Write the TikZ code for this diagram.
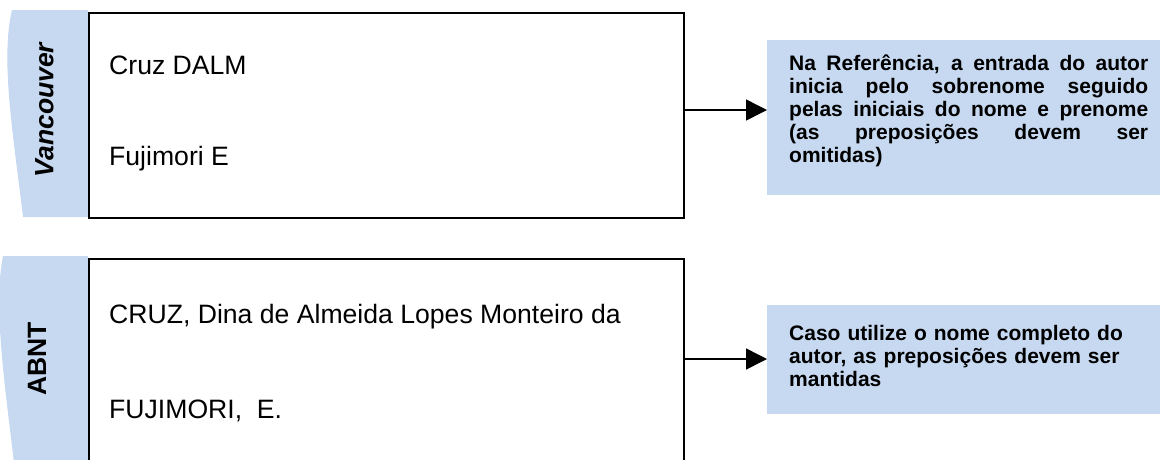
\documentclass[tikz,border=0pt]{standalone}
\usepackage{fontspec}
\setmainfont{Liberation Sans}
\usetikzlibrary{arrows.meta}
\definecolor{tabblue}{RGB}{198,217,240}
\begin{document}
\begin{tikzpicture}[x=1pt,y=-1pt,
  frame/.style={draw=black, line width=1.5pt, fill=white, inner sep=0pt, anchor=north west},
  reftext/.style={anchor=base west, inner sep=0pt, font=\fontsize{26.6}{30}\selectfont},
  notebox/.style={fill=tabblue, draw=none, inner sep=0pt, anchor=north west},
  notetext/.style={anchor=north west, inner sep=0pt, text width=359pt,
    font=\fontsize{21}{23}\selectfont\bfseries},
  tabtext/.style={rotate=90, inner sep=0pt, font=\fontsize{25}{30}\selectfont\bfseries},
  link/.style={line width=1.5pt, -{Triangle[length=21pt,width=21pt]}}
]
\useasboundingbox (0,0) rectangle (1160,459);
\begin{scope}
\clip (0,0) rectangle (1160,459);
% side tabs
\fill[tabblue] (12,10) -- (88,10) -- (88,217) -- (23,217)
  .. controls (14,140) and (0,60) .. (12,10) -- cycle;
\fill[tabblue] (3,256) -- (88,256) -- (88,463) -- (14,463)
  .. controls (5,386) and (-7,306) .. (3,256) -- cycle;
\node[tabtext, font=\fontsize{26.5}{30}\selectfont\bfseries\itshape] (tabV) at (44.5,110) {Vancouver};
\node[tabtext, font=\fontsize{26.5}{30}\selectfont\bfseries] (tabA) at (37,359) {ABNT};
% main boxes
\node[frame, minimum width=595pt, minimum height=205pt] (box1) at (88,12) {};
\node[frame, minimum width=595pt, minimum height=205pt] (box2) at (88,258) {};
\node[reftext] (r1) at (109,74) {Cruz DALM};
\node[reftext] (r2) at (109,165) {Fujimori E};
\node[reftext] (r3) at (109,323) {CRUZ, Dina de Almeida Lopes Monteiro da};
\node[reftext] (r4) at (109,418) {FUJIMORI,\ \ E.};
% note boxes
\node[notebox, minimum width=400pt, minimum height=155pt] (note1) at (767,40) {};
\node[notebox, minimum width=400pt, minimum height=109pt] (note2) at (767,305) {};
\node[notetext, align=justify] (t1) at (789,52) {\hyphenpenalty=10000\rule{0pt}{18pt}Na Referência, a entrada do autor\linebreak
inicia pelo sobrenome seguido\linebreak
pelas iniciais do nome e prenome\linebreak
(as preposições devem ser\linebreak
omitidas)};
\node[notetext, align=left] (t2) at (789,322) {\rule{0pt}{18pt}Caso utilize o nome completo do\\
autor, as preposições devem ser\\
mantidas};
% connectors
\coordinate (a1) at (683,110);
\coordinate (a2) at (683,359);
\draw[link] (a1) -- (a1 -| note1.west);
\draw[link] (a2) -- (a2 -| note2.west);
\end{scope}
\end{tikzpicture}
\end{document}
